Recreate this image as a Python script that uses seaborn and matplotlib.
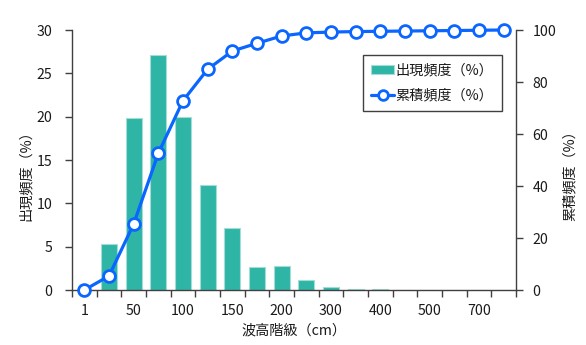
import numpy as np
import pandas as pd
import matplotlib
matplotlib.use("Agg")
import matplotlib.pyplot as plt
import seaborn as sns
from matplotlib.lines import Line2D
from matplotlib.patches import Patch

# Wave-height classes (18 bins); only every other class is labelled on the axis
class_index = list(range(18))
tick_labels = ["1", "50", "100", "150", "200", "300", "400", "500", "700"]

# Occurrence frequency per class (%)
occurrence = [0.0, 5.3, 19.9, 27.1, 20.0, 12.1, 7.1, 2.6, 2.8, 1.15,
              0.38, 0.12, 0.12, 0.04, 0.03, 0.03, 0.02, 0.02]
# Cumulative frequency (%)
cumulative = [0.0, 5.4, 25.4, 52.6, 72.8, 84.9, 91.9, 94.9, 97.7, 98.9,
              99.2, 99.4, 99.5, 99.6, 99.7, 99.8, 99.9, 100.0]

bar_label = "出現頻度（%）"
line_label = "累積頻度（%）"
x_label = "波高階級（cm）"

sns.set_theme(style="white")
plt.rcParams["font.family"] = ["Noto Sans CJK JP", "DejaVu Sans"]

teal = "#2eb5a6"
teal_edge = "#a3ddd5"
blue = "#0a66ff"
spine_col = "#404040"
text_col = "#1a1a1a"
fs = 10.2

df = pd.DataFrame({"cls": class_index, "occ": occurrence, "cum": cumulative})

fig = plt.figure(figsize=(5.86, 3.45), dpi=100)
ax = fig.add_axes([72 / 586, 55 / 345, 444 / 586, 260 / 345])
ax2 = ax.twinx()

sns.barplot(data=df, x="cls", y="occ", ax=ax, color=teal, width=0.65,
            edgecolor=teal_edge, linewidth=0.8, saturation=1)
sns.lineplot(data=df, x="cls", y="cum", ax=ax2, color=blue, linewidth=2.3,
             marker="o", markersize=8.5, markerfacecolor="white",
             markeredgecolor=blue, markeredgewidth=2.0, clip_on=False)

ax.set_xlim(-0.5, len(class_index) - 0.5)
ax.set_ylim(0, 30)
ax2.set_ylim(0, 100)
ax.set_yticks(np.arange(0, 31, 5))
ax2.set_yticks(np.arange(0, 101, 20))

# boundary tick marks between classes, labels at class centres
ax.set_xticks(np.arange(-0.5, len(class_index), 1.0), labels=[])
ax.set_xticks(class_index[::2], labels=tick_labels, minor=True)
ax.tick_params(axis="x", which="major", direction="out", length=5,
               width=1, color=spine_col, bottom=True)
ax.tick_params(axis="x", which="minor", length=0, pad=10,
               labelsize=fs, labelcolor=text_col, bottom=True)
ax.tick_params(axis="y", direction="out", length=5, width=1,
               color=spine_col, pad=9, labelsize=fs, labelcolor=text_col,
               left=True)
ax2.tick_params(axis="y", direction="out", length=5, width=1,
                color=spine_col, pad=7, labelsize=fs, labelcolor=text_col,
                right=True)

for a in (ax, ax2):
    a.spines["top"].set_visible(False)
    for s in a.spines.values():
        s.set_color(spine_col)
        s.set_linewidth(1)
ax2.spines["left"].set_visible(False)
ax2.spines["bottom"].set_visible(False)
ax.spines["right"].set_visible(False)

ax.set_xlabel(x_label, fontsize=fs, color=text_col)
ax.xaxis.set_label_coords(0.5, -0.13)
ax2.set_xlabel("")
ax.set_ylabel(bar_label, fontsize=fs, color=text_col)
ax.yaxis.set_label_coords(-0.088, 0.454)
ax2.set_ylabel(line_label, fontsize=fs, color=text_col)
ax2.yaxis.set_label_coords(1.106, 0.454)

handles = [
    Patch(facecolor=teal, edgecolor=teal_edge, linewidth=0.8),
    Line2D([], [], color=blue, linewidth=2.3, marker="o", markersize=7,
           markerfacecolor="white", markeredgecolor=blue, markeredgewidth=2.0),
]
leg = ax2.legend(handles, [bar_label, line_label], loc="upper left",
                 bbox_to_anchor=(0.655, 0.904), borderaxespad=0,
                 fontsize=fs, frameon=True, fancybox=False, framealpha=1,
                 edgecolor=spine_col, handlelength=1.6, handletextpad=0.1,
                 labelspacing=0.8, borderpad=0.6)
leg.get_frame().set_linewidth(1)
for t in leg.get_texts():
    t.set_color(text_col)

fig.savefig("out.png", dpi=100, facecolor="white")
